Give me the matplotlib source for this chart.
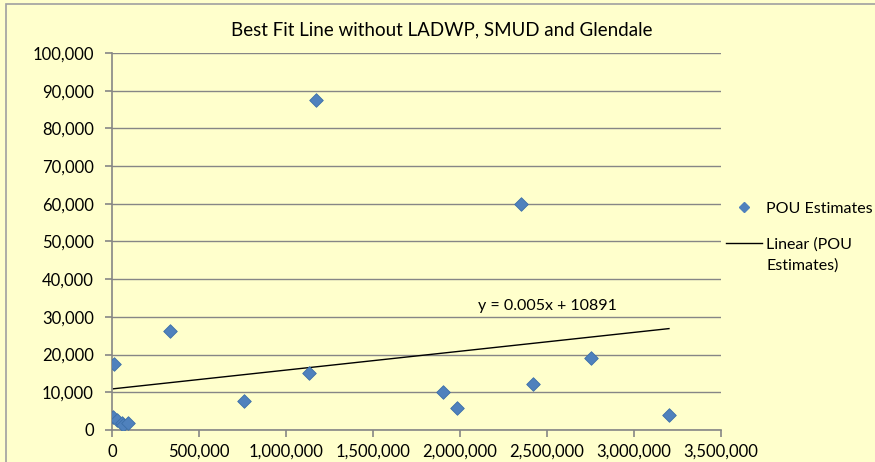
import matplotlib.pyplot as plt
from matplotlib.lines import Line2D
from matplotlib.patches import Rectangle
from matplotlib.legend_handler import HandlerLine2D
import numpy as np

plt.rcParams['font.family'] = ['Lato', 'DejaVu Sans']

# POU estimates
pou_x = [7500, 27000, 56000, 65000, 94000, 11500, 333000, 759000, 1132000,
         1172000, 1902000, 1983000, 2350000, 2420000, 2753000, 3201000]
pou_y = [3500, 2650, 1800, 1300, 1800, 17500, 26200, 7700, 15100,
         87500, 10100, 5800, 60000, 12200, 19100, 4000]

fit_slope = 0.005
fit_intercept = 10891

x_ticks = [0, 500000, 1000000, 1500000, 2000000, 2500000, 3000000, 3500000]
y_ticks = [0, 10000, 20000, 30000, 40000, 50000, 60000, 70000, 80000, 90000, 100000]

bg = '#FFFFCC'
grid_c = '#868686'


class FirstLineHandler(HandlerLine2D):
    # put the trendline handle level with the first text line
    def create_artists(self, legend, orig_handle, xdescent, ydescent,
                       width, height, fontsize, trans):
        return super().create_artists(legend, orig_handle, xdescent, ydescent - 17,
                                      width, height, fontsize, trans)


fig = plt.figure(figsize=(8.75, 4.62), dpi=100, facecolor=bg)
ax = fig.add_axes([112 / 875, 1 - 430 / 462, 609 / 875, 377 / 462])
ax.set_facecolor(bg)

fig.patches.append(Rectangle((6 / 875, -0.1), 1.2, 1 - 4 / 462 + 0.1,
                             transform=fig.transFigure, fill=False,
                             edgecolor='#A0A0A0', linewidth=1.2))

ax.scatter(pou_x, pou_y, marker='D', s=48, color='#4F81BD',
           edgecolor='#3C6FA8', linewidth=0.6, zorder=3)

fx = np.array([min(pou_x), max(pou_x)])
ax.plot(fx, fit_slope * fx + fit_intercept, color='black', linewidth=1.0, zorder=2)

ax.text(2.5e6, 33000, 'y = 0.005x + 10891', ha='center', va='center', fontsize=11.5)

ax.set_xlim(0, 3500000)
ax.set_ylim(0, 100000)
ax.set_xticks(x_ticks)
ax.set_yticks(y_ticks)
ax.set_xticklabels(['{:,}'.format(v) for v in x_ticks], fontsize=12)
ax.set_yticklabels(['{:,}'.format(v) for v in y_ticks], fontsize=12)
ax.yaxis.grid(True, color=grid_c, linewidth=1.0)
ax.set_axisbelow(True)
for s in ['top', 'right']:
    ax.spines[s].set_visible(False)
for s in ['left', 'bottom']:
    ax.spines[s].set_color(grid_c)
    ax.spines[s].set_linewidth(1.2)
ax.tick_params(axis='both', color=grid_c, length=5, width=1.2, direction='out')
ax.tick_params(axis='x', pad=5)
ax.tick_params(axis='y', pad=8)

fig.text(442 / 875, 1 - 30 / 462, 'Best Fit Line without LADWP, SMUD and Glendale',
         ha='center', va='center', fontsize=13.5)

dot = Line2D([], [], marker='D', linestyle='none', color='#4F81BD', markersize=5)
trend = Line2D([], [], color='black', linewidth=1.0)
leg = fig.legend([dot, trend], ['POU Estimates', 'Linear (POU\nEstimates)'],
                 loc='upper left', bbox_to_anchor=(720 / 875, 1 - 195 / 462),
                 frameon=False, fontsize=11.5, handlelength=2.2, labelspacing=1.35,
                 handletextpad=0.3, borderaxespad=0,
                 handler_map={trend: FirstLineHandler()})
plt.setp(leg.get_texts(), linespacing=1.65)

fig.savefig('out.png', dpi=100, facecolor=bg)
